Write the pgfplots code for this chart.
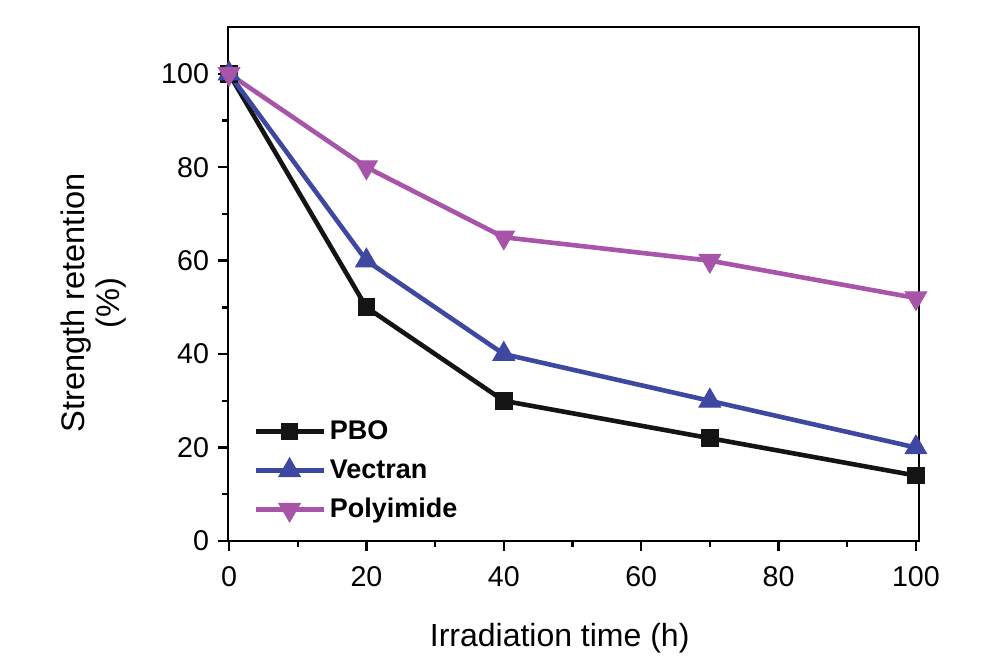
\documentclass[border=0pt]{standalone}
\usepackage{pgfplots}
\pgfplotsset{compat=1.18}
\usepackage{fontspec}
\setmainfont{Liberation Sans}
\definecolor{pbo}{RGB}{20,20,20}
\definecolor{vec}{RGB}{62,72,160}
\definecolor{pim}{RGB}{168,84,168}
\begin{document}
\begin{tikzpicture}
\useasboundingbox[fill=white] (-114pt,-63pt) rectangle (386pt,270.5pt);
\begin{axis}[
  at={(0,0)}, anchor=south west,
  scale only axis, width=345.5pt, height=257pt,
  xmin=-0.15, xmax=100.45, ymin=0, ymax=110,
  xtick={0,20,40,60,80,100}, ytick={0,20,40,60,80,100},
  minor xtick={10,30,50,70,90}, minor ytick={10,30,50,70,90},
  xtick pos=bottom, ytick pos=left,
  tick align=outside,
  major tick length=5pt, minor tick length=3pt,
  every tick/.style={black, line width=1.2pt},
  axis line style={line width=1.4pt},
  /pgf/number format/assume math mode=true,
  tick label style={font=\fontsize{14.3}{16}\selectfont},
  xticklabel style={yshift=-4pt},
  yticklabel style={xshift=-1pt},
  xlabel={Irradiation time (h)},
  ylabel={Strength retention\\(\%)},
  xlabel style={at={(axis description cs:0.48,-0.189)}, anchor=center, font=\fontsize{16}{18}\selectfont},
  ylabel style={at={(axis description cs:-0.194,0.463)}, anchor=center, align=center, font=\fontsize{16.3}{17.5}\selectfont},
  legend style={draw=none, fill=none, at={(axis description cs:0.036,0.243)}, anchor=north west,
    font=\fontsize{13.5}{14}\selectfont\bfseries, row sep=4.6pt, inner sep=0pt},
  legend cell align=left,
  legend image code/.code={\draw[mark repeat=2,mark phase=2] plot coordinates {(0pt,0pt)(17pt,0pt)(34pt,0pt)};},
]
\addplot[pbo, line width=2.3pt, mark=square*, mark size=4.2pt, mark options={solid, line width=0.5pt}]
  coordinates {(0,100) (20,50) (40,30) (70,22) (100,14)};
\addlegendentry{PBO}
\addplot[vec, line width=2.3pt, mark=triangle*, mark size=6.2pt, mark options={solid, line width=0.5pt}]
  coordinates {(0,100) (20,60) (40,40) (70,30) (100,20)};
\addlegendentry{Vectran}
\addplot[pim, line width=2.3pt, mark=triangle*, mark size=6.2pt, mark options={solid, rotate=180, line width=0.5pt}]
  coordinates {(0,100) (20,80) (40,65) (70,60) (100,52)};
\addlegendentry{Polyimide}
\end{axis}
\end{tikzpicture}
\end{document}
